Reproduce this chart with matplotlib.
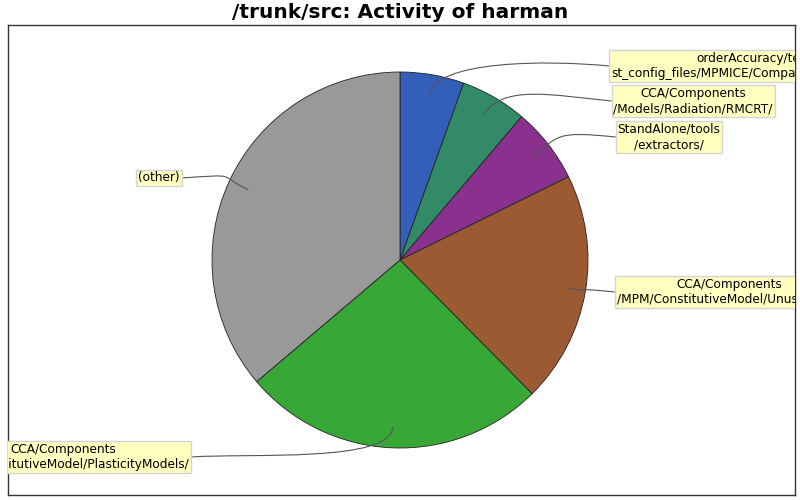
import numpy as np
import matplotlib
matplotlib.use("Agg")
import matplotlib.pyplot as plt
from matplotlib.path import Path
from matplotlib.patches import PathPatch

# ---- data ----
labels = [
    "orderAccuracy/te\nst_config_files/MPMICE/Compare_advection1/",
    "CCA/Components\n/Models/Radiation/RMCRT/",
    "StandAlone/tools\n/extractors/",
    "CCA/Components\n/MPM/ConstitutiveModel/Unused/Old/",
    "CCA/Components\n/MPM/ConstitutiveModel/PlasticityModels/",
    "(other)",
]
shares = [5.5, 5.7, 6.5, 19.9, 26.2, 36.2]
colors = ["#335fb8", "#338a66", "#8a3190", "#9c5a33", "#37a836", "#999999"]
title = "/trunk/src: Activity of harman"

# label box centres (pixel coords, layout only)
label_pos = [(748, 66), (693, 101), (669, 137), (729, 292), (63, 457), (159, 178)]

W, H = 800, 500
fig = plt.figure(figsize=(8, 5), dpi=100)
ax = fig.add_axes([8 / W, 5 / H, 787 / W, 470 / H])

cx, cy, R = 400, H - 260, 188
wedges, _ = ax.pie(shares, colors=colors, startangle=90, counterclock=False,
                   center=(cx, cy), radius=R, frame=True,
                   wedgeprops=dict(edgecolor="#222222", linewidth=0.6))
ax.set_xlim(8, 795)
ax.set_ylim(5, 475)
ax.set_aspect("auto")
ax.set_xticks([])
ax.set_yticks([])
for s in ax.spines.values():
    s.set_color("#333333")
    s.set_linewidth(1.0)

# leader lines and labels
total = sum(shares)
cum = 0.0
for i, (lab, v) in enumerate(zip(labels, shares)):
    mid = 90 - (cum + v / 2) / total * 360
    cum += v
    a = np.deg2rad(mid)
    d = np.array([np.cos(a), np.sin(a)])
    p0 = np.array([cx, cy]) + 0.89 * R * d
    p1 = np.array([cx, cy]) + 1.08 * R * d
    lx, ly = label_pos[i]
    ly = H - ly
    t = ax.text(lx, ly, lab, ha="center", va="center", multialignment="center",
                fontsize=8.7, family="DejaVu Sans", color="black",
                bbox=dict(boxstyle="square,pad=0.15", facecolor="#ffffc0",
                          edgecolor="#d4d4d4", linewidth=1.0), zorder=5)
    t.set_clip_on(True)
    t.set_clip_box(ax.bbox)
    fig.canvas.draw()
    bb = t.get_bbox_patch().get_window_extent(fig.canvas.get_renderer())
    inv = ax.transData.inverted()
    (bx0, by0), (bx1, by1) = inv.transform([[bb.x0, bb.y0], [bb.x1, bb.y1]])
    if lx > cx:
        p3 = np.array([bx0, ly])
        p2 = np.array([bx0 - 60, ly + 6])
    else:
        p3 = np.array([bx1, ly])
        p2 = np.array([bx1 + 60, ly + 4])
    path = Path([p0, p1, p2, p3], [Path.MOVETO, Path.CURVE4, Path.CURVE4, Path.CURVE4])
    ax.add_patch(PathPatch(path, facecolor="none", edgecolor="#555555",
                           linewidth=0.8, zorder=4))

fig.text(0.5, 1 - 13 / H, title, ha="center", va="center",
         fontsize=14.5, fontweight="bold", family="DejaVu Sans")

fig.savefig("out.png", dpi=100)
